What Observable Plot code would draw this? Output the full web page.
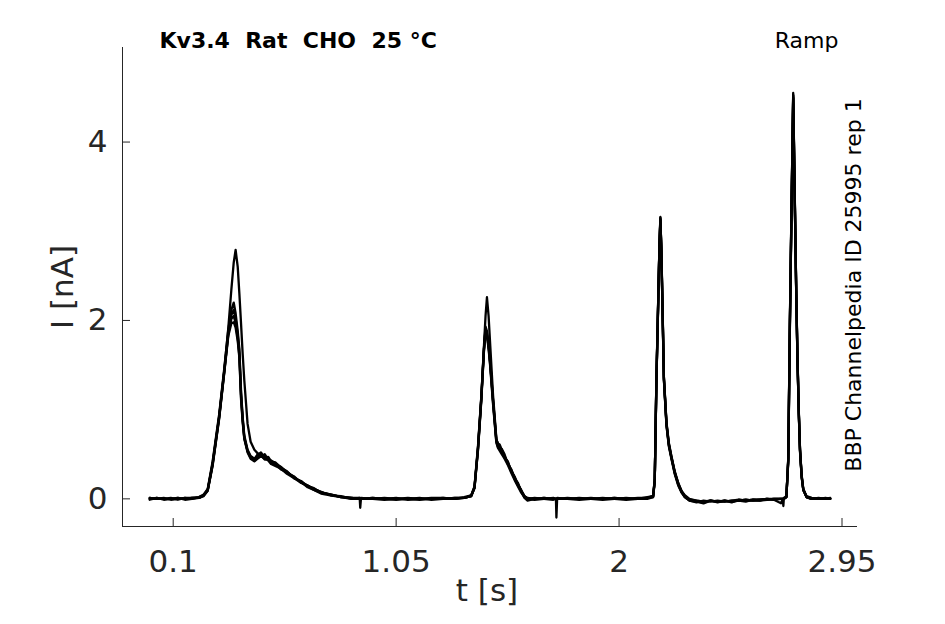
<!DOCTYPE html>
<html><head><meta charset="utf-8">
<script src="https://cdn.jsdelivr.net/npm/d3@7"></script>
<script src="https://cdn.jsdelivr.net/npm/@observablehq/plot@0.6"></script>
<style>html,body{margin:0;padding:0;background:#fff;} svg{display:block}</style>
</head><body><div id="chart"></div>
<script>
// time [s]
const time = [
  0.000,0.030,0.060,0.090,0.120,0.150,0.180,0.210,0.230,0.247,
  0.268,0.296,0.318,0.335,0.348,0.358,0.366,0.375,0.382,0.389,
  0.396,0.403,0.417,0.430,0.446,0.460,0.474,0.490,0.505,0.517,
  0.535,0.559,0.585,0.616,0.645,0.673,0.700,0.730,0.770,0.815,
  0.860,0.895,0.897,0.900,0.950,1.000,1.050,1.100,1.150,1.200,
  1.250,1.300,1.340,1.370,1.384,1.399,1.413,1.424,1.431,1.437,
  1.444,1.451,1.463,1.477,1.484,1.491,1.500,1.512,1.526,1.541,
  1.555,1.569,1.583,1.597,1.610,1.640,1.680,1.720,1.731,1.733,
  1.736,1.780,1.830,1.880,1.930,1.980,2.030,2.080,2.120,2.145,
  2.152,2.159,2.167,2.172,2.176,2.180,2.184,2.191,2.202,2.212,
  2.223,2.237,2.252,2.266,2.280,2.300,2.330,2.360,2.390,2.420,
  2.450,2.480,2.510,2.540,2.570,2.600,2.630,2.660,2.690,2.698,
  2.700,2.702,2.713,2.721,2.728,2.735,2.742,2.749,2.755,2.760,
  2.766,2.771,2.778,2.785,2.799,2.820,2.850,2.880,2.900
];
// current [nA], one array per sweep
const sweep1 = [
  0.00,0.01,-0.01,0.00,0.01,0.00,0.01,0.01,0.04,0.10,
  0.40,0.93,1.45,1.92,2.35,2.65,2.79,2.60,2.30,1.97,
  1.63,1.33,0.84,0.64,0.55,0.51,0.50,0.47,0.45,0.43,
  0.40,0.355,0.30,0.24,0.19,0.15,0.11,0.075,0.045,0.025,
  0.01,0.00,0.00,0.00,0.00,0.01,0.00,0.00,-0.01,0.00,
  0.00,0.01,0.01,0.03,0.13,0.58,1.14,1.70,2.05,2.26,
  2.05,1.72,1.16,0.68,0.60,0.58,0.54,0.48,0.40,0.32,
  0.24,0.17,0.09,0.03,0.01,0.00,0.00,-0.01,0.00,0.00,
  0.00,0.00,0.00,0.00,0.01,0.00,0.00,0.01,0.01,0.03,
  0.21,1.33,2.26,2.85,3.16,2.80,2.30,1.35,0.84,0.62,
  0.47,0.30,0.17,0.09,0.04,0.00,-0.02,-0.03,-0.02,-0.03,
  -0.03,-0.02,-0.01,-0.02,-0.01,-0.01,0.00,0.00,0.00,0.00,
  0.00,0.00,0.02,0.45,2.00,3.30,4.55,3.35,2.30,1.60,
  0.95,0.55,0.25,0.10,0.02,0.00,0.00,0.00,0.00
];
const sweep2 = [
  0.01,0.00,0.00,0.01,-0.01,0.01,0.00,0.02,0.05,0.11,
  0.42,0.95,1.47,1.90,2.12,2.20,2.08,1.88,1.68,1.22,
  0.92,0.71,0.55,0.48,0.45,0.49,0.52,0.46,0.47,0.42,
  0.41,0.35,0.31,0.23,0.20,0.14,0.12,0.07,0.05,0.02,
  0.01,0.01,0.00,0.00,0.01,0.00,-0.01,0.00,0.00,0.01,
  0.01,0.00,0.02,0.04,0.14,0.60,1.15,1.68,1.93,1.88,
  1.72,1.52,1.10,0.66,0.62,0.61,0.55,0.47,0.41,0.31,
  0.25,0.16,0.10,0.02,0.00,0.01,0.00,0.00,0.00,0.00,
  0.01,0.00,-0.01,0.00,0.00,0.01,0.00,0.00,0.02,0.03,
  0.22,1.30,2.24,2.83,3.14,2.82,2.32,1.37,0.86,0.63,
  0.48,0.31,0.18,0.09,0.03,-0.01,-0.02,-0.03,-0.02,-0.03,
  -0.02,-0.03,-0.02,-0.01,-0.02,-0.01,0.00,-0.01,0.00,0.00,
  0.00,0.01,0.03,0.44,1.98,3.28,4.52,3.33,2.32,1.62,
  0.97,0.56,0.27,0.11,0.03,0.01,0.00,0.00,0.01
];
const sweep3 = [
  -0.01,0.01,0.00,0.00,0.00,0.01,0.01,0.01,0.04,0.09,
  0.38,0.91,1.43,1.86,2.06,2.12,2.02,1.84,1.64,1.18,
  0.90,0.69,0.53,0.46,0.44,0.50,0.47,0.50,0.44,0.41,
  0.38,0.36,0.29,0.25,0.18,0.15,0.11,0.08,0.04,0.03,
  0.00,0.01,0.01,0.00,0.00,0.00,0.01,-0.01,0.00,0.00,
  0.01,0.00,0.01,0.03,0.12,0.56,1.12,1.66,1.91,1.84,
  1.70,1.50,1.08,0.64,0.58,0.56,0.56,0.50,0.39,0.33,
  0.22,0.18,0.08,0.01,-0.02,0.00,0.01,0.00,0.00,0.00,
  0.00,0.01,0.00,0.00,-0.01,0.00,0.01,0.00,0.01,0.02,
  0.20,1.32,2.25,2.84,3.15,2.79,2.28,1.33,0.82,0.60,
  0.46,0.29,0.16,0.08,0.02,-0.02,-0.04,-0.02,-0.03,-0.02,
  -0.03,-0.02,-0.02,-0.01,-0.02,-0.02,-0.01,0.00,0.00,0.00,
  -0.08,0.00,0.02,0.46,2.02,3.31,4.53,3.30,2.28,1.58,
  0.94,0.53,0.24,0.10,0.02,0.00,0.01,0.00,0.00
];
const sweep4 = [
  0.00,0.00,0.01,-0.01,0.00,0.00,0.01,0.02,0.04,0.10,
  0.39,0.92,1.44,1.85,2.02,2.05,1.97,1.80,1.60,1.15,
  0.88,0.68,0.54,0.47,0.43,0.46,0.49,0.44,0.46,0.40,
  0.39,0.33,0.30,0.24,0.19,0.13,0.10,0.07,0.05,0.02,
  0.01,0.00,0.00,0.01,0.00,-0.01,0.00,0.01,0.00,0.00,
  0.00,0.01,0.01,0.04,0.13,0.57,1.13,1.67,1.90,1.86,
  1.73,1.53,1.11,0.67,0.61,0.57,0.52,0.46,0.42,0.30,
  0.23,0.15,0.09,0.03,0.00,0.00,0.01,0.00,0.00,-0.21,
  0.00,0.00,0.01,0.00,0.00,0.00,-0.01,0.00,0.01,0.03,
  0.21,1.31,2.23,2.82,3.13,2.81,2.30,1.36,0.85,0.61,
  0.47,0.30,0.17,0.08,0.03,-0.01,-0.03,-0.04,-0.02,-0.03,
  -0.02,-0.04,-0.01,-0.02,-0.01,-0.02,0.00,-0.01,-0.05,0.00,
  0.00,0.00,0.02,0.43,1.96,3.27,4.50,3.32,2.31,1.61,
  0.96,0.55,0.26,0.11,0.02,0.00,0.00,0.01,0.00
];
const sweep5 = [
  0.01,0.00,0.00,0.00,0.01,-0.01,0.00,0.01,0.03,0.09,
  0.37,0.90,1.42,1.83,1.97,1.98,1.92,1.77,1.58,1.12,
  0.86,0.67,0.52,0.45,0.42,0.45,0.48,0.45,0.43,0.39,
  0.37,0.34,0.28,0.23,0.18,0.14,0.10,0.06,0.04,0.02,
  0.00,0.00,-0.10,0.00,0.01,0.00,0.00,0.00,0.01,-0.01,
  0.00,0.00,0.01,0.03,0.12,0.55,1.10,1.64,1.88,1.83,
  1.68,1.48,1.06,0.63,0.57,0.54,0.50,0.45,0.38,0.29,
  0.21,0.14,0.07,0.02,0.00,-0.01,0.00,0.01,0.00,0.00,
  0.00,0.00,0.00,0.01,0.00,0.01,0.00,0.00,0.00,0.02,
  0.19,1.29,2.22,2.81,3.12,2.78,2.27,1.34,0.83,0.59,
  0.45,0.28,0.15,0.07,0.02,-0.02,-0.03,-0.05,-0.02,-0.04,
  -0.02,-0.03,-0.02,-0.03,-0.01,-0.01,-0.01,0.00,0.00,0.00,
  0.00,0.00,0.02,0.42,1.95,3.25,4.49,3.29,2.29,1.59,
  0.95,0.54,0.25,0.10,0.02,0.01,0.00,0.00,0.00
];
const sweepNames = ["sweep 1","sweep 2","sweep 3","sweep 4","sweep 5"];

const xTicks = [0.1, 1.05, 2, 2.95];
const xTickLabels = ["0.1", "1.05", "2", "2.95"];
const yTicks = [0, 2, 4];
const yTickLabels = ["0", "2", "4"];

const titleText = "Kv3.4\u00a0 Rat\u00a0 CHO\u00a0 25 °C";
const protocolText = "Ramp";
const sourceText = "BBP Channelpedia ID 25995 rep 1";
const xLabel = "t [s]";
const yLabel = "I [nA]";

// layout
const W = 945, H = 624, mL = 122, mR = 88, mT = 47, mB = 98;
const plotW = W - mL - mR, plotH = H - mT - mB;
const xDomain = [-0.116, 3.016];
const yDomain = [-0.31, 5.06];
const axisColor = "#262626";

const sweeps = [sweep1, sweep2, sweep3, sweep4, sweep5];
const rows = sweeps.flatMap((vals, k) =>
  time.map((t, i) => ({t, I: vals[i], sweep: sweepNames[k]})).filter(r => r.I !== undefined)
);

const chart = Plot.plot({
  width: W, height: H,
  marginLeft: mL, marginRight: mR, marginTop: mT, marginBottom: mB,
  style: {fontFamily: "DejaVu Sans", background: "#fff", color: axisColor, overflow: "visible"},
  x: {domain: xDomain},
  y: {domain: yDomain},
  marks: [
    Plot.ruleX([xDomain[0]], {stroke: axisColor, strokeWidth: 1}),
    Plot.ruleY([yDomain[0]], {stroke: axisColor, strokeWidth: 1}),
    Plot.tickX(xTicks, {x: d => d, insetTop: plotH - 8, stroke: axisColor, strokeWidth: 1}),
    Plot.tickY(yTicks, {y: d => d, insetRight: plotW - 8, stroke: axisColor, strokeWidth: 1}),
    Plot.axisX(xTicks, {tickSize: 0, tickPadding: 23, fontSize: 31, label: null,
      tickFormat: d => xTickLabels[xTicks.indexOf(d)]}),
    Plot.axisY(yTicks, {tickSize: 0, tickPadding: 15, fontSize: 31, label: null,
      tickFormat: d => yTickLabels[yTicks.indexOf(d)]}),
    Plot.line(rows, {x: "t", y: "I", z: "sweep", stroke: "#000", strokeWidth: 2.3, strokeLinejoin: "round", strokeLinecap: "round"}),
    Plot.text([titleText], {text: d => d, frameAnchor: "top-left", textAnchor: "start", lineAnchor: "bottom",
      dx: 37, fontSize: 22, fontWeight: "bold", fill: "#000"}),
    Plot.text([protocolText], {text: d => d, frameAnchor: "top-right", textAnchor: "end", lineAnchor: "bottom",
      dx: -19, fontSize: 22, fill: "#000"}),
    Plot.text([sourceText], {text: d => d, frameAnchor: "right", rotate: -90, textAnchor: "middle", lineAnchor: "bottom",
      dx: 3, dy: -2, fontSize: 22, fill: "#000"}),
    Plot.text([yLabel], {text: d => d, frameAnchor: "left", rotate: -90, textAnchor: "middle", lineAnchor: "bottom",
      dx: -50, fontSize: 31, fill: axisColor}),
    Plot.text([xLabel], {text: d => d, frameAnchor: "bottom", textAnchor: "middle", lineAnchor: "bottom",
      dx: -3, dy: 74, fontSize: 31, fill: axisColor})
  ]
});
document.getElementById("chart").appendChild(chart);
</script>
</body></html>
